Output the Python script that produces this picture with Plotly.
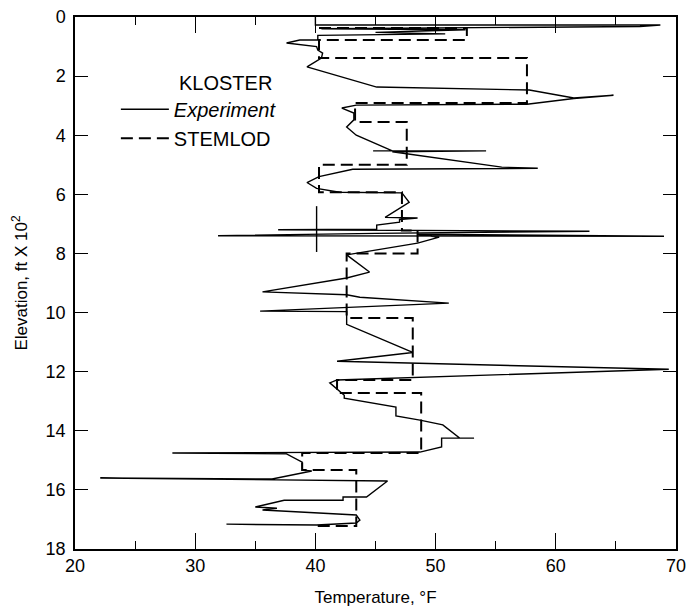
import plotly.graph_objects as go

# Experiment (KLOSTER) profile: temperature (°F) vs elevation (ft x 100)
exp_temp = [40.0, 40.0, 68.7, 67.0, 40.5, 52.5, 45.0, 50.8, 40.2, 40.2, 38.7, 37.6, 40.1, 40.2, 40.6, 40.5,
            39.3, 45.1, 57.8, 61.5, 64.8, 61.5, 57.6, 43.4, 42.2, 43.2, 43.2, 42.6, 43.4, 46.4, 44.8, 54.2,
            46.4, 55.5, 58.5, 43.1, 40.3, 39.3, 40.1, 42.0, 47.2, 47.8, 45.8, 48.5, 47.0, 47.0, 45.1, 45.1,
            36.9, 62.8, 45.0, 31.9, 69.0, 48.5, 50.3, 48.5, 42.6, 44.5, 42.6, 35.6, 42.6, 43.7, 51.1, 35.4,
            42.6, 42.6, 47.8, 48.1, 41.8, 69.4, 41.8, 41.2, 42.4, 42.4, 46.7, 46.7, 48.7, 50.6, 52.0, 53.2,
            50.5, 50.5, 48.7, 28.1, 37.6, 38.9, 38.9, 39.7, 36.4, 22.1, 43.4, 46.0, 44.25, 42.3, 42.3, 37.4,
            35.0, 36.8, 35.6, 43.4, 43.7, 43.4, 40.1, 32.6,
            None, 40.1, 40.1]
exp_elev = [0.00, 0.27, 0.27, 0.32, 0.40, 0.43, 0.52, 0.57, 0.62, 0.78, 0.78, 0.88, 1.00, 1.12, 1.22, 1.39,
            1.69, 2.37, 2.47, 2.74, 2.65, 2.76, 2.95, 2.98, 3.08, 3.25, 3.48, 3.72, 4.00, 4.53, 4.53, 4.53,
            4.56, 5.08, 5.12, 5.15, 5.40, 5.60, 5.80, 5.93, 5.95, 6.27, 6.78, 6.80, 6.85, 6.94, 7.04, 7.18,
            7.20, 7.25, 7.32, 7.40, 7.42, 7.35, 7.45, 7.65, 8.05, 8.63, 8.83, 9.30, 9.40, 9.48, 9.68, 9.95,
            9.97, 10.40, 11.30, 11.35, 11.65, 11.92, 12.28, 12.38, 12.80, 12.90, 13.20, 13.50, 13.64, 13.80, 14.25, 14.25,
            14.25, 14.55, 14.72, 14.75, 14.78, 15.06, 15.33, 15.36, 15.63, 15.60, 15.67, 15.70, 16.24, 16.24, 16.35, 16.35,
            16.58, 16.62, 16.68, 16.85, 17.02, 17.12, 17.19, 17.16,
            None, 6.40, 7.95]

# STEMLOD model profile
stem_temp = [40.3, 52.6, 52.6, 40.3, 40.3, 57.6, 57.6, 43.3, 43.3, 47.6, 47.6, 40.3, 40.3, 47.2, 47.2,
             48.5, 48.5, 42.6, 42.6, 48.1, 48.1, 41.8, 41.8, 48.8, 48.8, 38.9, 38.9, 43.4, 43.4, 40.0]
stem_elev = [0.37, 0.37, 0.78, 0.78, 1.39, 1.39, 2.91, 2.91, 3.55, 3.55, 5.00, 5.00, 5.93, 5.93, 7.22,
             7.22, 8.00, 8.00, 10.18, 10.18, 12.28, 12.28, 12.72, 12.72, 14.75, 14.75, 15.33, 15.33, 17.22, 17.22]

x_ticks = [20, 30, 40, 50, 60, 70]
y_ticks = [0, 2, 4, 6, 8, 10, 12, 14, 16, 18]

NB = "\u00a0"

fig = go.Figure()
fig.add_trace(go.Scatter(x=exp_temp, y=exp_elev, mode="lines", name="<i>Experiment</i>",
                         line=dict(color="black", width=1.4), connectgaps=False))
fig.add_trace(go.Scatter(x=stem_temp, y=stem_elev, mode="lines", name="STEMLOD",
                         line=dict(color="black", width=2, dash="12px,6px")))

fig.update_layout(
    width=687, height=616,
    margin=dict(l=75, r=11, t=17, b=67),
    paper_bgcolor="white", plot_bgcolor="white",
    font=dict(family="Liberation Sans, Arial, sans-serif", color="black", size=16),
    legend=dict(x=0.068, y=0.912, xanchor="left", yanchor="top",
                title=dict(text=NB * 11 + "KLOSTER", font=dict(size=20)),
                font=dict(size=20), itemwidth=48, tracegroupgap=8,
                bgcolor="rgba(0,0,0,0)"),
    xaxis=dict(range=[20, 70], tickvals=x_ticks, ticktext=[str(v) for v in x_ticks],
               showgrid=False, zeroline=False, showline=True, linecolor="black", linewidth=1.5,
               mirror="ticks", ticks="inside", ticklen=16, tickwidth=1.3, tickcolor="black",
               minor=dict(dtick=5, tick0=0, ticks="inside", ticklen=8, tickwidth=1.2, tickcolor="black"),
               tickfont=dict(size=18), automargin=False, ticklabeloverflow="allow",
               title=dict(text="Temperature, °F", font=dict(size=17), standoff=16)),
    yaxis=dict(range=[18, 0], tickvals=y_ticks, ticktext=[str(v) for v in y_ticks],
               showgrid=False, zeroline=False, showline=True, linecolor="black", linewidth=1.5,
               mirror="ticks", ticks="inside", ticklen=13, tickwidth=1.3, tickcolor="black",
               tickfont=dict(size=18), automargin=False, ticklabelstandoff=4, ticklabeloverflow="allow",
               title=dict(text="Elevation, ft X 10<sup>2</sup>", font=dict(size=17), standoff=14)),
)

fig.write_html("out.html", config={"displayModeBar": False},
               post_script="document.body.style.margin='0';")
